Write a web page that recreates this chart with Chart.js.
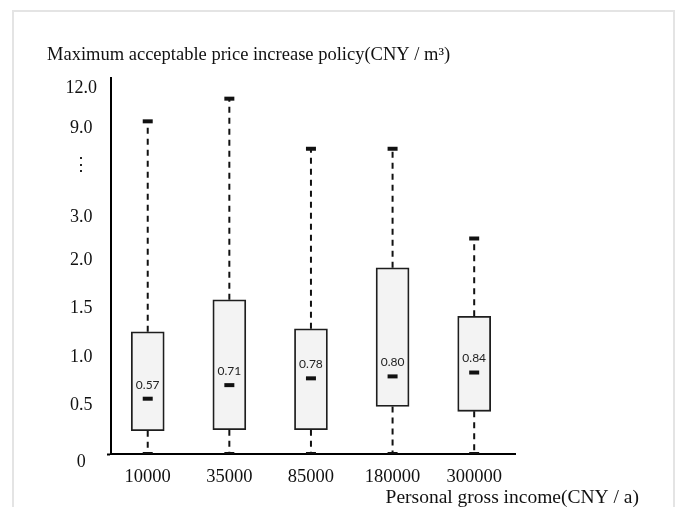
<!DOCTYPE html>
<html><head><meta charset="utf-8">
<script src="https://cdn.jsdelivr.net/npm/chart.js@4/dist/chart.umd.min.js"></script>
<style>
html,body{margin:0;padding:0;background:#fff;}
#wrap{position:relative;width:677px;height:507px;overflow:hidden;}
#frame{position:absolute;left:12px;top:10px;width:663px;height:530px;border:2px solid #e4e4e4;box-sizing:border-box;}
canvas{position:absolute;left:0;top:0;}
</style></head><body>
<div id="wrap"><div id="frame"></div><canvas id="c" width="677" height="507"></canvas></div>
<script>
// ---- data ----
const categories = ['10000', '35000', '85000', '180000', '300000'];
const whiskerMin = [0, 0, 0, 0, 0];
const q1 = [0.24, 0.25, 0.25, 0.49, 0.44];
const median = [0.57, 0.71, 0.78, 0.80, 0.84];
const q3 = [1.26, 1.59, 1.29, 1.92, 1.42];
const whiskerMax = [9.5, 11.2, 7.6, 7.6, 2.5];

// ---- broken y axis definition ----
const yTickValues = [0, 0.5, 1.0, 1.5, 2.0, 3.0, 9.0, 12.0];
const yTickLabels = ['0', '0.5', '1.0', '1.5', '2.0', '3.0', '9.0', '12.0'];
const yTickPositions = [0, 48.5, 97, 145.5, 194, 237, 326, 366];
const yBreakLabel = '⋮';
const yBreakPosition = 289;
const yAxisTop = 376;

const xTitle = 'Personal gross income(CNY / a)';
const yTitle = 'Maximum acceptable price increase policy(CNY / m³)';

function toPos(v) {
  for (let i = 0; i < yTickValues.length - 1; i++) {
    const a = yTickValues[i], b = yTickValues[i + 1];
    if (v >= a && v <= b) {
      return yTickPositions[i] + (v - a) / (b - a) * (yTickPositions[i + 1] - yTickPositions[i]);
    }
  }
  return v < 0 ? 0 : yAxisTop;
}

const boxData = categories.map((c, i) => ({x: i, y: [toPos(q1[i]), toPos(q3[i])]}));
const upperWhiskers = [], lowerWhiskers = [];
categories.forEach((c, i) => {
  upperWhiskers.push({x: i, y: toPos(q3[i])}, {x: i, y: toPos(whiskerMax[i])}, {x: i, y: null});
  lowerWhiskers.push({x: i, y: toPos(q1[i])}, {x: i, y: toPos(whiskerMin[i])}, {x: i, y: null});
});
const capData = [];
categories.forEach((c, i) => {
  capData.push({x: i, y: toPos(whiskerMax[i])}, {x: i, y: toPos(whiskerMin[i])});
});
const medianData = categories.map((c, i) => ({x: i, y: toPos(median[i])}));

const yTicksAll = yTickPositions.map((p, i) => ({value: p, label: yTickLabels[i] === '0' ? ['', '0'] : yTickLabels[i]}));
yTicksAll.push({value: yBreakPosition, label: yBreakLabel});
yTicksAll.sort((a, b) => a.value - b.value);

const serif = "'Liberation Serif', 'Times New Roman', serif";

const textPlugin = {
  id: 'texts',
  afterDatasetsDraw(chart) {
    const ctx = chart.ctx;
    const meta = chart.getDatasetMeta(3);
    ctx.save();
    ctx.fillStyle = '#222';
    ctx.font = "12px Lato, 'Open Sans', sans-serif";
    ctx.textAlign = 'center';
    ctx.textBaseline = 'middle';
    meta.data.forEach((el, i) => {
      ctx.fillText(median[i].toFixed(2), el.x, el.y - 14);
    });
    ctx.restore();
  },
  afterDraw(chart) {
    const ctx = chart.ctx;
    const ca = chart.chartArea;
    ctx.save();
    ctx.fillStyle = '#111';
    ctx.textBaseline = 'middle';
    ctx.textAlign = 'left';
    ctx.font = '18.5px ' + serif;
    ctx.fillText(yTitle, 47, 55);
    ctx.textAlign = 'right';
    ctx.font = '19.5px ' + serif;
    ctx.fillText(xTitle, ca.right + 124, 498);
    ctx.restore();
  }
};

new Chart(document.getElementById('c'), {
  type: 'bar',
  data: {
    datasets: [
      {type: 'bar', data: boxData, backgroundColor: '#f3f3f3', borderColor: '#1e1e1e',
       borderWidth: 1.8, borderSkipped: false, barThickness: 33, order: 5},
      {type: 'line', data: upperWhiskers, borderColor: '#111', borderWidth: 2, borderDash: [6, 5],
       pointRadius: 0, spanGaps: false, order: 4},
      {type: 'line', data: lowerWhiskers, borderColor: '#111', borderWidth: 2, borderDash: [6, 5],
       pointRadius: 0, spanGaps: false, order: 4},
      {type: 'line', data: medianData, showLine: false, pointStyle: 'line', pointRadius: 5,
       pointBorderWidth: 4, borderColor: '#111', pointBorderColor: '#111', order: 1},
      {type: 'line', data: capData, showLine: false, pointStyle: 'line', pointRadius: 5,
       pointBorderWidth: 4, borderColor: '#111', pointBorderColor: '#111', order: 1}
    ]
  },
  options: {
    responsive: false,
    animation: false,
    events: [],
    layout: {padding: {left: 13, right: 162, top: 78, bottom: 0}},
    plugins: {legend: {display: false}, tooltip: {enabled: false}},
    scales: {
      x: {
        type: 'linear', min: -0.45, max: 4.5, offset: false,
        afterBuildTicks: (s) => { s.ticks = categories.map((c, i) => ({value: i})); },
        afterFit: (s) => { s.height = 53; },
        ticks: {callback: (v) => categories[v], color: '#111', padding: 12,
                font: {family: serif, size: 18.5}, maxRotation: 0, autoSkip: false},
        grid: {color: 'rgba(0,0,0,0)', drawTicks: false, drawOnChartArea: false, offset: false},
        border: {display: true, color: '#000', width: 2}
      },
      y: {
        type: 'linear', min: 0, max: yAxisTop,
        afterBuildTicks: (s) => { s.ticks = yTicksAll.map(t => ({value: t.value})); },
        afterFit: (s) => { s.width = 98; },
        ticks: {callback: (v, i) => yTicksAll[i].label, color: '#111', padding: 10, crossAlign: 'center',
                font: {family: serif, size: 18, lineHeight: 0.9}, autoSkip: false},
        grid: {color: 'rgba(0,0,0,0)', drawOnChartArea: false, tickLength: 4, tickWidth: 2,
               tickColor: (ctx) => (ctx.tick && ctx.tick.value === 0 ? '#000' : 'rgba(0,0,0,0)')},
        border: {display: true, color: '#000', width: 2}
      }
    }
  },
  plugins: [textPlugin]
});
</script>
</body></html>
